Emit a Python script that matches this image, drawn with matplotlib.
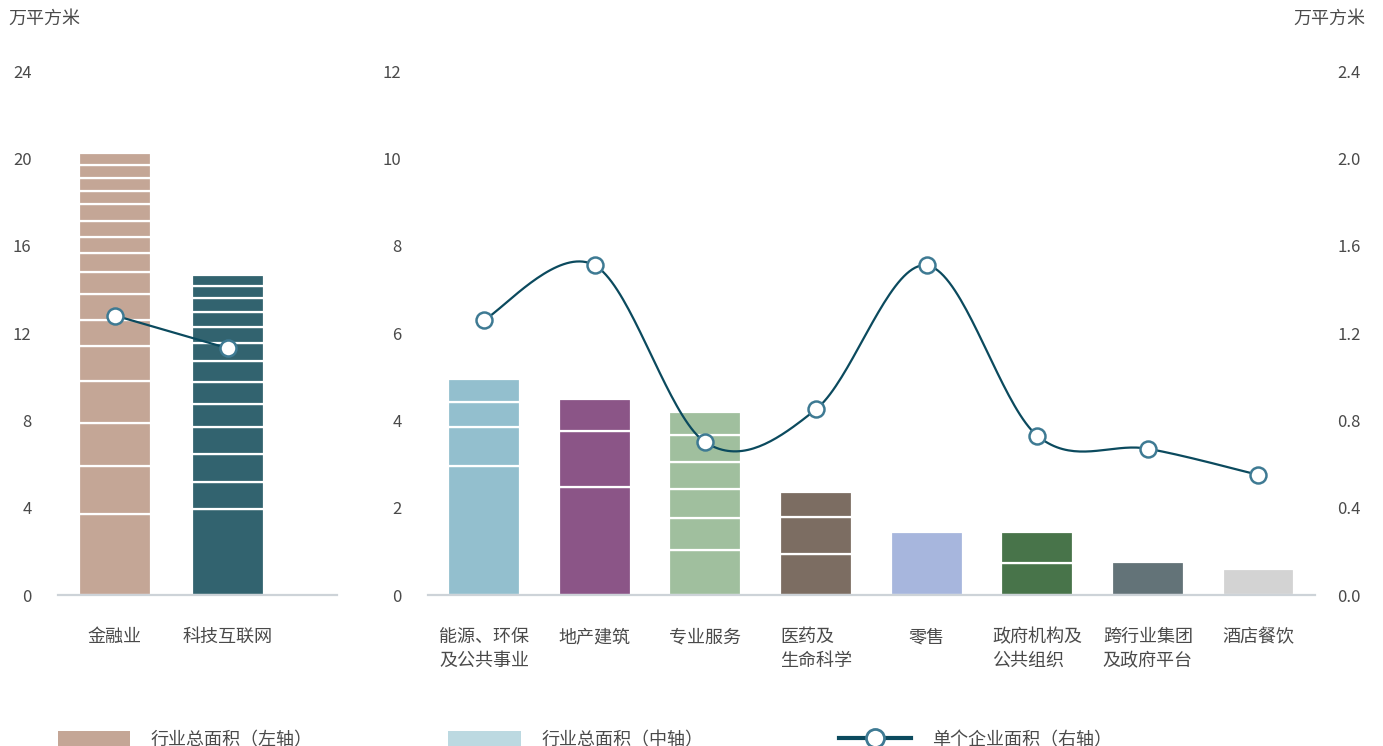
import numpy as np
import matplotlib.pyplot as plt
from matplotlib.patches import Patch
from matplotlib.lines import Line2D

plt.rcParams['font.family'] = ['Noto Sans CJK SC', 'DejaVu Sans']

# industries on the left axis (万平方米), stacked segments bottom-up
big_names = ["金融业", "科技互联网"]
big_segments = [
    [3.7, 2.2, 2.0, 1.9, 1.6, 1.2, 1.2, 1.0, 0.85, 0.75, 0.75, 0.75, 0.6, 0.6, 0.6, 0.55],
    [3.93, 1.26, 1.25, 1.24, 1.06, 1.0, 0.99, 0.8, 0.76, 0.69, 0.64, 0.55, 0.49],
]
big_colors = ["#C4A696", "#32636F"]
big_avg = [1.28, 1.13]

# industries on the middle axis
mid_names = ["能源、环保\n及公共事业", "地产建筑", "专业服务", "医药及\n生命科学", "零售",
             "政府机构及\n公共组织", "跨行业集团\n及政府平台", "酒店餐饮"]
mid_segments = [
    [2.95, 0.9, 0.56, 0.53],
    [2.47, 1.28, 0.74],
    [1.03, 0.73, 0.67, 0.62, 0.61, 0.52],
    [0.95, 0.83, 0.57],
    [1.44],
    [0.73, 0.71],
    [0.75],
    [0.60],
]
mid_colors = ["#93BFCE", "#8B5587", "#A0BF9E", "#7C6D62", "#A7B6DD", "#48744A", "#637378", "#D3D3D3"]
mid_avg = [1.26, 1.51, 0.70, 0.85, 1.51, 0.73, 0.67, 0.55]

line_color = "#0B4A5E"
marker_edge = "#3E7A93"
text_color = "#4A4A4A"
spine_color = "#CDD3D8"


def catmull_rom(x, y, n=40):
    """Smooth curve through the points (uniform Catmull-Rom)."""
    px = np.concatenate([[x[0]], x, [x[-1]]])
    py = np.concatenate([[y[0]], y, [y[-1]]])
    xs, ys = [], []
    t = np.linspace(0, 1, n)
    for i in range(1, len(px) - 2):
        for p, out in ((px, xs), (py, ys)):
            p0, p1, p2, p3 = p[i - 1], p[i], p[i + 1], p[i + 2]
            out.extend(0.5 * (2 * p1 + (-p0 + p2) * t
                              + (2 * p0 - 5 * p1 + 4 * p2 - p3) * t ** 2
                              + (-p0 + 3 * p1 - 3 * p2 + p3) * t ** 3))
    return np.array(xs), np.array(ys)


def stacked(ax, pos, segs, color, width):
    bottom = 0
    for s in segs:
        ax.bar(pos, s, width, bottom=bottom, color=color, edgecolor="white", linewidth=1.6)
        bottom += s


def style(ax):
    for side in ("top", "left", "right"):
        ax.spines[side].set_visible(False)
    ax.spines["bottom"].set_color(spine_color)
    ax.spines["bottom"].set_linewidth(1.6)
    ax.tick_params(axis="both", length=0, labelcolor=text_color)
    ax.tick_params(axis="y", pad=19, labelsize=12)
    ax.tick_params(axis="x", pad=24, labelsize=13)
    for lab in ax.get_xticklabels():
        lab.set_multialignment("left")
        lab.set_linespacing(1.4)


fig = plt.figure(figsize=(13.83, 7.46), dpi=100)
W, H = 1383, 746
bottom_px, top_px = 595, 71
ax_h = (bottom_px - top_px) / H
ax_y = (H - bottom_px) / H

# left panel
ax_l = fig.add_axes([58 / W, ax_y, (337 - 58) / W, ax_h])
for i, segs in enumerate(big_segments):
    stacked(ax_l, i, segs, big_colors[i], 0.64)
ax_l.set_ylim(0, 24)
ax_l.set_yticks(np.arange(0, 25, 4))
ax_l.set_xlim(-0.504, 1.965)
ax_l.set_xticks(range(len(big_names)))
ax_l.set_xticklabels(big_names)
style(ax_l)

ax_l2 = ax_l.twinx()
ax_l2.set_ylim(0, 2.4)
ax_l2.axis("off")
ax_l2.plot(range(len(big_avg)), big_avg, color=line_color, lw=1.6, zorder=4)
ax_l2.plot(range(len(big_avg)), big_avg, "o", ms=11.5, mfc="white", mec=marker_edge, mew=1.8, zorder=5)

# middle panel with right axis
ax_m = fig.add_axes([428 / W, ax_y, (1315 - 428) / W, ax_h])
for i, segs in enumerate(mid_segments):
    stacked(ax_m, i, segs, mid_colors[i], 0.65)
ax_m.set_ylim(0, 12)
ax_m.set_yticks(np.arange(0, 13, 2))
ax_m.set_xlim(-0.506, 7.511)
ax_m.set_xticks(range(len(mid_names)))
ax_m.set_xticklabels(mid_names)
style(ax_m)

ax_r = ax_m.twinx()
ax_r.set_ylim(0, 2.4)
ax_r.set_yticks(np.arange(0, 2.41, 0.4))
ax_r.set_yticklabels([f"{v:.1f}" for v in np.arange(0, 2.41, 0.4)])
for side in ("top", "left", "right", "bottom"):
    ax_r.spines[side].set_visible(False)
ax_r.tick_params(axis="y", length=0, pad=16, labelsize=12, labelcolor=text_color)
sx, sy = catmull_rom(np.arange(len(mid_avg), dtype=float), np.array(mid_avg))
ax_r.plot(sx, sy, color=line_color, lw=1.6, zorder=4)
ax_r.plot(range(len(mid_avg)), mid_avg, "o", ms=11.5, mfc="white", mec=marker_edge, mew=1.8, zorder=5)

# unit labels
fig.text(8 / W, 1 - 19 / H, "万平方米", ha="left", va="center", fontsize=13, color=text_color)
fig.text(1365 / W, 1 - 19 / H, "万平方米", ha="right", va="center", fontsize=13, color=text_color)

# legend
handles = [
    Patch(facecolor=big_colors[0]),
    Patch(facecolor="#BCD9E1"),
    Line2D([], [], color=line_color, lw=3, marker="o", ms=13, mfc="white", mec=marker_edge, mew=2),
]
labels = ["行业总面积（左轴）", "行业总面积（中轴）", "单个企业面积（右轴）"]
fig.legend(handles, labels, ncol=3, loc="center left", bbox_to_anchor=(58 / W, 6 / H),
           frameon=False, handlelength=4.0, handleheight=0.95, handletextpad=1.15,
           columnspacing=7.5, borderpad=0, borderaxespad=0, fontsize=13, labelcolor=text_color)

fig.savefig("out.png", dpi=100)
